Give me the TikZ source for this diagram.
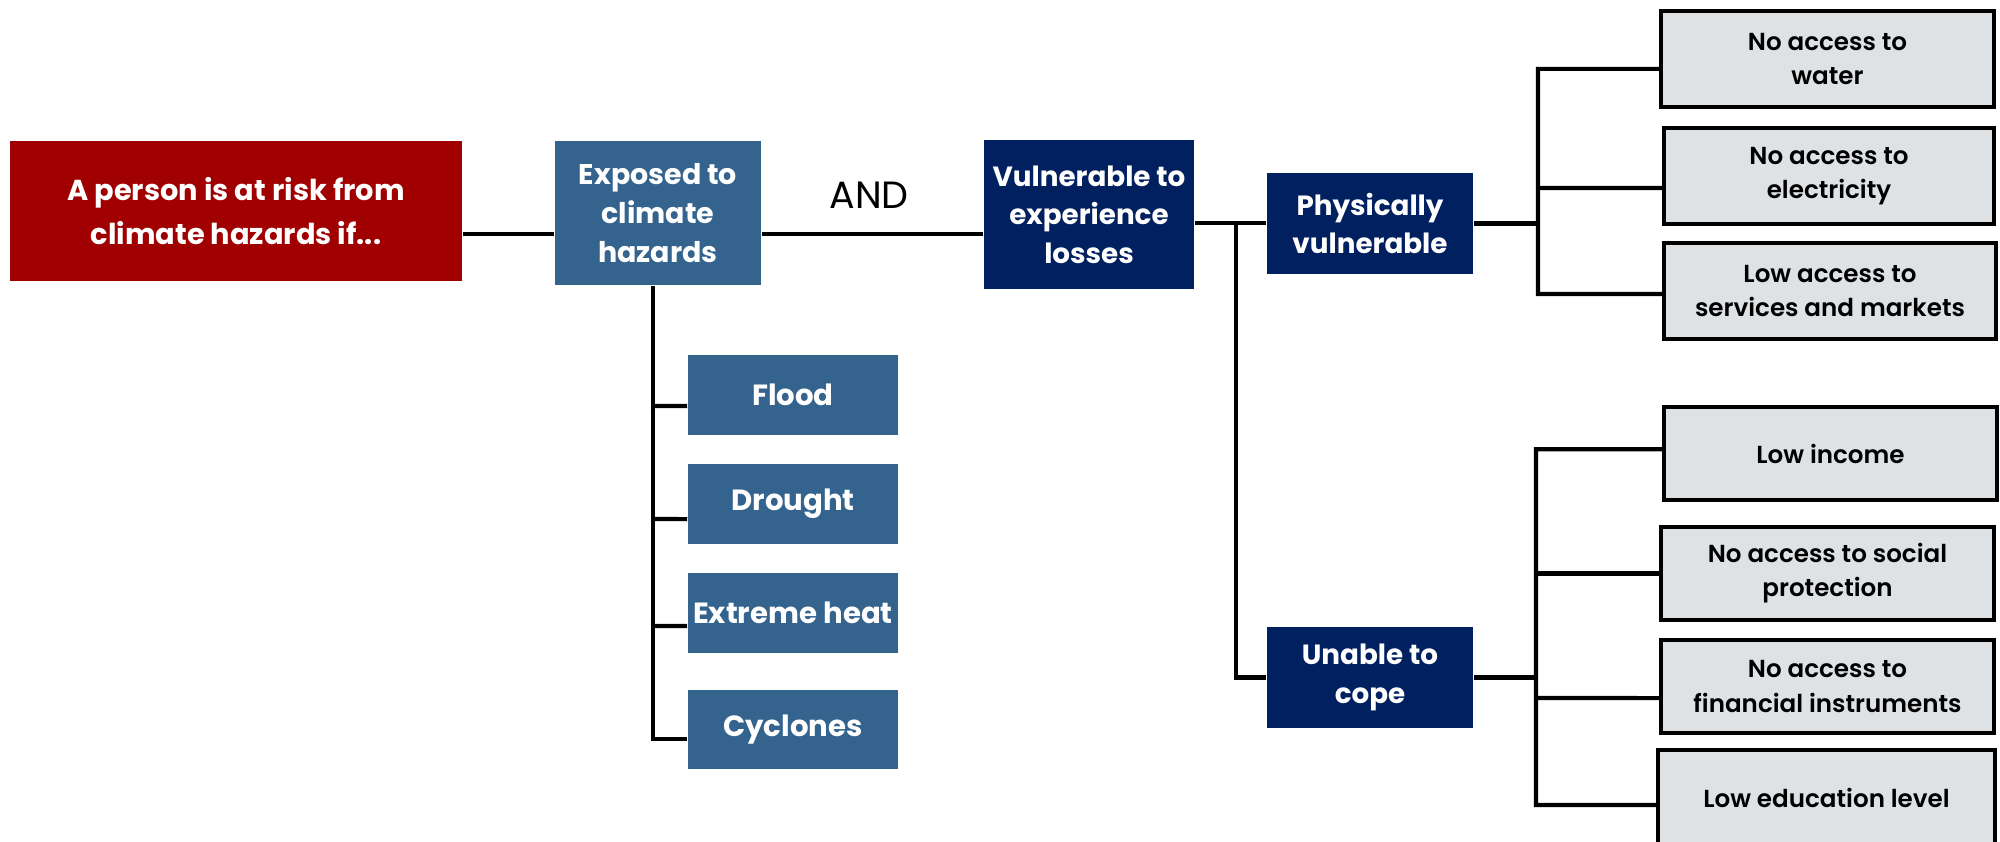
\documentclass[tikz,border=0pt]{standalone}
\usepackage{fontspec}
\setmainfont{Poppins}
\newfontfamily\medfont{Poppins SemiBold}
\definecolor{myred}{HTML}{A00000}
\definecolor{myblue}{HTML}{34648E}
\definecolor{mynavy}{HTML}{002060}
\definecolor{mygray}{HTML}{DFE2E5}
\tikzset{
  basebox/.style={inner sep=0pt, align=center, text=white, font=\bfseries\fontsize{8.1}{11}\selectfont},
  redbox/.style={basebox, fill=myred, font=\bfseries\fontsize{8.2}{12.6}\selectfont},
  bluebox/.style={basebox, fill=myblue},
  navybox/.style={basebox, fill=mynavy, font=\bfseries\fontsize{7.9}{11}\selectfont},
  hazbox/.style={basebox, fill=myblue, font=\bfseries\fontsize{8.3}{11}\selectfont, minimum width=2.10cm, minimum height=0.80cm},
  graybox/.style={inner sep=0pt, align=center, fill=mygray, draw=black, line width=1pt, text=black, font=\medfont\fontsize{7.0}{9.7}\selectfont, minimum height=0.96cm},
  conn/.style={line width=1.2pt, black},
}
\begin{document}
\begin{tikzpicture}[x=0.01cm, y=-0.01cm]
\useasboundingbox (0,0) rectangle (2000,841);
\clip (0,0) rectangle (2000,841);
% main chain
\node[redbox, minimum width=4.52cm, minimum height=1.40cm] (red) at (236,211) {A person is at risk from\\climate hazards if...};
\node[bluebox, minimum width=2.06cm, minimum height=1.44cm] (exposed) at (658,213) {Exposed to\\climate\\hazards};
\node[navybox, minimum width=2.10cm, minimum height=1.49cm] (vuln) at (1089,214.5) {Vulnerable to\\experience\\losses};
\node[navybox, minimum width=2.06cm, minimum height=1.01cm] (phys) at (1370,223.5) {Physically\\vulnerable};
\node[navybox, minimum width=2.06cm, minimum height=1.01cm] (unable) at (1370,677.5) {Unable to\\cope};
\node[font=\fontsize{10.8}{12}\selectfont] (and) at (869,195) {AND};
% hazards
\node[hazbox] (flood) at (793,395) {Flood};
\node[hazbox] (drought) at (793,504) {Drought};
\node[hazbox] (heat) at (793,613) {Extreme heat};
\node[hazbox, minimum height=0.79cm] (cyclones) at (793,729.5) {Cyclones};
% physical vulnerability
\node[graybox, minimum width=3.33cm] (water) at (1827.5,59) {No access to\\water};
\node[graybox, minimum width=3.30cm] (elec) at (1829,176) {No access to\\electricity};
\node[graybox, minimum width=3.32cm] (serv) at (1830,291) {Low access to\\services and markets};
% coping
\node[graybox, minimum width=3.33cm, minimum height=0.93cm] (income) at (1830.5,453.5) {Low income};
\node[graybox, minimum width=3.33cm, minimum height=0.93cm] (social) at (1827.5,573.5) {No access to social\\protection};
\node[graybox, minimum width=3.33cm, minimum height=0.93cm] (fin) at (1827.5,686.5) {No access to\\financial instruments};
\node[graybox, minimum width=3.37cm] (edu) at (1826.5,798) {Low education level};
% junction coordinates
\coordinate (r1) at (0,234);
\coordinate (jv) at (1236,223);
\coordinate (jh) at (653,0);
\coordinate (jp) at (1538,0);
\coordinate (jc) at (1536,0);
% connectors main chain
\draw[conn] (red.east |- r1) -- (exposed.west |- r1);
\draw[conn] (exposed.east |- r1) -- (vuln.west |- r1);
\draw[conn] (vuln.east |- jv) -- (phys.west |- jv);
\draw[conn] (jv) |- (unable.west);
% hazards
\draw[conn] (jh |- exposed.south) |- ([yshift=-2.7pt]cyclones.west);
\draw[conn] (jh |- flood.west) ++(0,11) -- ([yshift=-3.1pt]flood.west);
\draw[conn] (jh |- drought.west) ++(0,15) -- ([yshift=-4.3pt]drought.west);
\draw[conn] (jh |- heat.west) ++(0,13) -- ([yshift=-3.7pt]heat.west);
% physical bracket
\draw[conn] (phys.east) -- (jp |- phys.east);
\draw[conn] ([yshift=-2.8pt]water.west) -| (jp |- 0,294) -- ([yshift=-0.85pt]serv.west);
\draw[conn] (jp |- 0,188) -- ([yshift=-3.4pt]elec.west);
% coping bracket
\draw[conn] (unable.east) -- (jc |- unable.east);
\draw[conn] ([yshift=1.2pt]income.west) -| (jc |- 0,805) -- ([yshift=-2pt]edu.west);
\draw[conn] (jc |- social.west) -- (social.west);
\draw[conn] (jc |- 0,698) -- ([yshift=-3.3pt]fin.west);
\end{tikzpicture}
\end{document}
